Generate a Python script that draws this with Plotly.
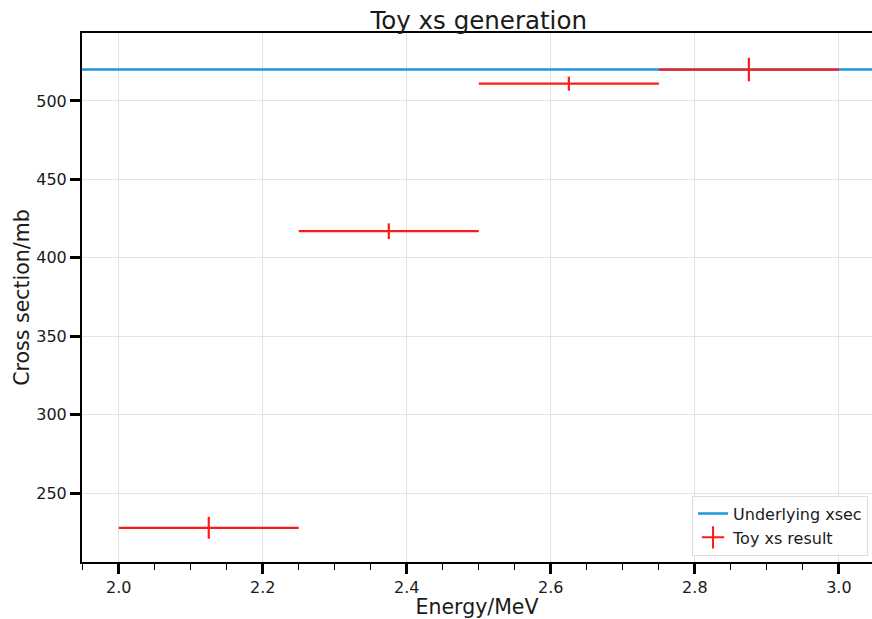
import plotly.graph_objects as go

# Energy bins (MeV) and extracted toy cross sections (mb)
bin_low = [2.0, 2.25, 2.5, 2.75]
bin_high = [2.25, 2.5, 2.75, 3.0]
toy_xs = [228.0, 417.0, 511.0, 520.0]
toy_xs_err = [7.0, 5.0, 4.5, 7.5]

# Flat underlying cross section (mb)
underlying_xsec = 520.0

x_range = [1.949, 3.046]
y_range = [206.2, 543.3]

bin_center = [(lo + hi) / 2 for lo, hi in zip(bin_low, bin_high)]
bin_half = [(hi - lo) / 2 for lo, hi in zip(bin_low, bin_high)]

font_family = "DejaVu Sans"
red = "#ff1a1a"
blue = "#1a96dc"

fig = go.Figure()

fig.add_trace(go.Scatter(
    x=x_range, y=[underlying_xsec, underlying_xsec],
    mode="lines", line=dict(color=blue, width=2.5),
    name="Underlying xsec", showlegend=True,
))

# Toy results: horizontal bars cover the bin, vertical bars the uncertainty
fig.add_trace(go.Scatter(
    x=bin_center, y=toy_xs, mode="markers",
    marker=dict(size=2, color="rgba(0,0,0,0)"),
    error_x=dict(type="data", array=bin_half, color=red, thickness=2.2, width=0),
    error_y=dict(type="data", array=toy_xs_err, color=red, thickness=2.2, width=0),
    showlegend=False, hoverinfo="skip",
))

# Legend entry for the toy results
fig.add_trace(go.Scatter(
    x=[None], y=[None], mode="markers",
    marker=dict(symbol="cross-thin", size=17, line=dict(color=red, width=2)),
    name="Toy xs result",
))

fig.update_layout(
    width=872, height=619,
    margin=dict(l=82, r=0, t=33, b=57),
    paper_bgcolor="white", plot_bgcolor="white",
    font=dict(family=font_family, color="#1a1a1a", size=16),
    title=dict(text="Toy xs generation", x=0.549, xanchor="center",
               yref="container", y=1 - 20 / 619, yanchor="middle",
               font=dict(size=24.5, family=font_family, color="#1a1a1a")),
    legend=dict(x=0.995, xanchor="right", y=0.012, yanchor="bottom",
                bgcolor="rgba(255,255,255,0.85)", bordercolor="#dddddd",
                borderwidth=1, font=dict(size=16, family=font_family),
                tracegroupgap=0),
    showlegend=True,
)

fig.update_xaxes(
    range=x_range, showgrid=True, gridcolor="#e3e3e3", gridwidth=1,
    dtick=0.2, tick0=2.0, tickformat=".1f",
    ticks="outside", ticklen=10, tickwidth=2.5, tickcolor="black",
    showline=True, linecolor="black", linewidth=2, mirror=True,
    zeroline=False,
    minor=dict(dtick=0.05, tick0=2.0, ticks="outside", ticklen=6,
               tickwidth=1, tickcolor="black", showgrid=False),
    title=dict(text="Energy/MeV", font=dict(size=20.5, family=font_family),
               standoff=4),
    tickfont=dict(size=16, family=font_family),
)

fig.update_yaxes(
    range=y_range, showgrid=True, gridcolor="#e3e3e3", gridwidth=1,
    dtick=50, tick0=0,
    ticks="outside", ticklen=10, tickwidth=2.5, tickcolor="black",
    showline=True, linecolor="black", linewidth=2, mirror=False,
    zeroline=False,
    title=dict(text="Cross section/mb", font=dict(size=20.5, family=font_family),
               standoff=1),
    tickfont=dict(size=16, family=font_family),
)

fig.write_html("out.html")
